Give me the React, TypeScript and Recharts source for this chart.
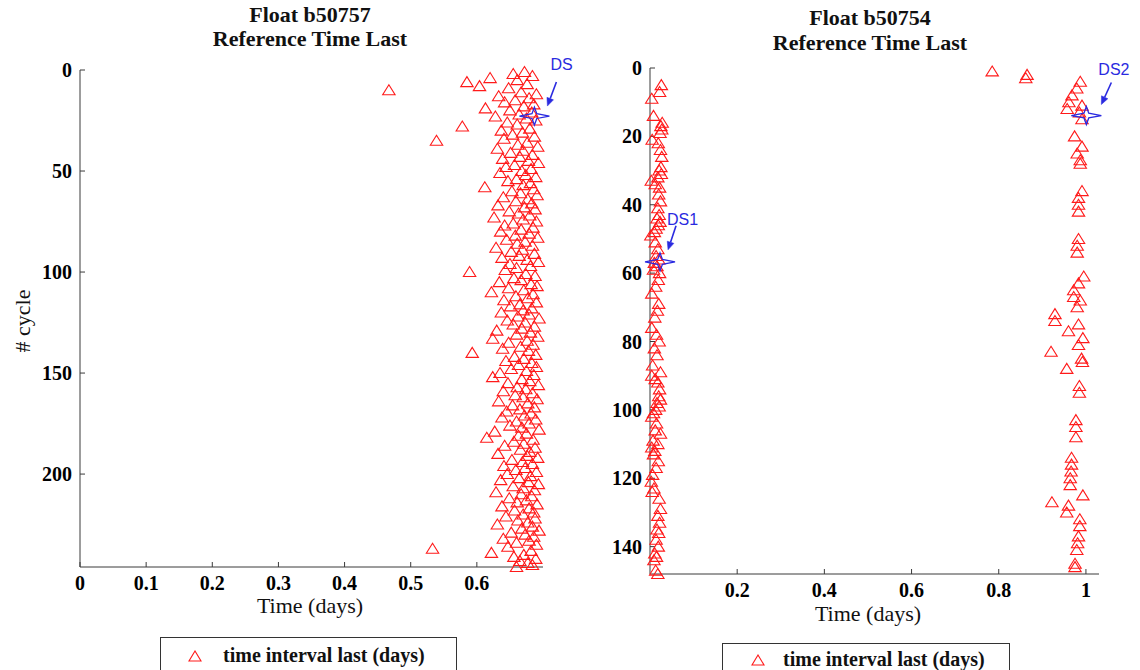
import React from 'react';
import { ScatterChart, Scatter, XAxis, YAxis } from 'recharts';

// ---------- Data ----------
// Float b50757: time interval last (days) for cycles 1..246
const leftTimes: number[] = [
  0.672, 0.655, 0.684, 0.620, 0.661, 0.585, 0.676, 0.604, 0.648, 0.467,
  0.667, 0.690, 0.633, 0.679, 0.658, 0.642, 0.686, 0.671, 0.613, 0.650,
  0.683, 0.664, 0.628, 0.675, 0.689, 0.646, 0.661, 0.578, 0.680, 0.637,
  0.669, 0.654, 0.687, 0.641, 0.539, 0.676, 0.662, 0.692, 0.631, 0.670,
  0.651, 0.684, 0.665, 0.639, 0.678, 0.693, 0.657, 0.644, 0.682, 0.668,
  0.635, 0.674, 0.689, 0.660, 0.647, 0.681, 0.670, 0.612, 0.686, 0.653,
  0.666, 0.691, 0.640, 0.677, 0.659, 0.683, 0.632, 0.672, 0.688, 0.649,
  0.663, 0.680, 0.626, 0.670, 0.690, 0.655, 0.642, 0.685, 0.667, 0.636,
  0.679, 0.658, 0.692, 0.645, 0.673, 0.661, 0.684, 0.629, 0.669, 0.652,
  0.687, 0.664, 0.638, 0.676, 0.693, 0.650, 0.681, 0.660, 0.643, 0.589,
  0.674, 0.688, 0.656, 0.667, 0.634, 0.682, 0.691, 0.648, 0.671, 0.622,
  0.685, 0.659, 0.677, 0.641, 0.690, 0.665, 0.651, 0.683, 0.670, 0.637,
  0.679, 0.662, 0.694, 0.646, 0.673, 0.655, 0.687, 0.668, 0.630, 0.681,
  0.660, 0.692, 0.624, 0.676, 0.648, 0.685, 0.666, 0.639, 0.678, 0.593,
  0.689, 0.657, 0.671, 0.644, 0.683, 0.663, 0.690, 0.652, 0.675, 0.635,
  0.686, 0.624, 0.668, 0.680, 0.647, 0.693, 0.661, 0.674, 0.640, 0.684,
  0.658, 0.670, 0.691, 0.633, 0.677, 0.654, 0.687, 0.665, 0.645, 0.682,
  0.672, 0.638, 0.689, 0.660, 0.679, 0.650, 0.668, 0.694, 0.627, 0.675,
  0.663, 0.615, 0.685, 0.656, 0.671, 0.642, 0.688, 0.666, 0.680, 0.632,
  0.676, 0.692, 0.653, 0.669, 0.684, 0.641, 0.673, 0.659, 0.690, 0.646,
  0.681, 0.664, 0.636, 0.678, 0.693, 0.655, 0.670, 0.687, 0.629, 0.667,
  0.683, 0.649, 0.675, 0.661, 0.691, 0.638, 0.679, 0.657, 0.686, 0.670,
  0.644, 0.688, 0.662, 0.677, 0.631, 0.684, 0.668, 0.694, 0.652, 0.673,
  0.686, 0.640, 0.679, 0.660, 0.690, 0.647, 0.533, 0.682, 0.622, 0.671,
  0.656, 0.689, 0.665, 0.677, 0.684, 0.660,
];

// Float b50754: cycles whose time is near 1 day
const rightHighCycles: number[] = [
  1, 2, 3, 4, 6, 8, 10, 11, 12, 13,
  15, 20, 23, 25, 27, 28, 36, 38, 40, 42,
  50, 52, 54, 61, 63, 65, 67, 68, 70, 72,
  74, 75, 77, 79, 81, 83, 85, 86, 88, 93,
  95, 103, 105, 108, 114, 116, 118, 120, 122, 125,
  127, 128, 130, 132, 134, 137, 139, 141, 145, 146,
];
const rightHighTimes: number[] = [
  0.785, 0.865, 0.862, 0.987, 0.979, 0.968, 0.961, 0.991, 0.957, 0.985,
  0.991, 0.974, 0.991, 0.980, 0.987, 0.987, 0.991, 0.983, 0.983, 0.983,
  0.983, 0.980, 0.980, 0.995, 0.983, 0.972, 0.972, 0.987, 0.980, 0.929,
  0.929, 0.983, 0.960, 0.993, 0.983, 0.920, 0.990, 0.992, 0.956, 0.985,
  0.985, 0.977, 0.977, 0.977, 0.967, 0.967, 0.966, 0.964, 0.964, 0.993,
  0.922, 0.960, 0.956, 0.986, 0.986, 0.983, 0.981, 0.979, 0.975, 0.975,
];

// Float b50754: cycles whose time is near 0 day
const rightLowCycles: number[] = [
  5, 7, 9, 14, 16, 17, 18, 19, 21, 22,
  24, 26, 29, 30, 31, 32, 33, 34, 35, 37,
  39, 41, 43, 44, 45, 46, 47, 48, 49, 51,
  53, 55, 56, 57, 58, 59, 60, 62, 64, 66,
  69, 71, 73, 76, 78, 80, 82, 84, 87, 89,
  90, 91, 92, 94, 96, 97, 98, 99, 100, 101,
  102, 104, 106, 107, 109, 110, 111, 112, 113, 115,
  117, 119, 121, 123, 124, 126, 129, 131, 133, 135,
  136, 138, 140, 142, 143, 144, 147, 148,
];
const rightLowTimes: number[] = [
  0.026, 0.022, 0.004, 0.008, 0.028, 0.025, 0.027, 0.023, 0.005, 0.019,
  0.024, 0.027, 0.025, 0.021, 0.026, 0.018, 0.003, 0.012, 0.022, 0.020,
  0.024, 0.018, 0.021, 0.016, 0.023, 0.019, 0.014, 0.010, 0.002, 0.012,
  0.018, 0.014, 0.020, 0.010, 0.016, 0.008, 0.022, 0.019, 0.013, 0.004,
  0.020, 0.017, 0.011, 0.004, 0.015, 0.021, 0.010, 0.016, 0.006, 0.024,
  0.004, 0.012, 0.018, 0.022, 0.020, 0.024, 0.016, 0.021, 0.013, 0.008,
  0.004, 0.015, 0.012, 0.024, 0.007, 0.018, 0.004, 0.011, 0.008, 0.019,
  0.014, 0.006, 0.003, 0.009, 0.005, 0.021, 0.024, 0.018, 0.022, 0.016,
  0.020, 0.014, 0.019, 0.011, 0.015, 0.009, 0.013, 0.018,
];

// Deep-sampling (DS) markers
const leftDSLabels: string[] = ['DS'];
const leftDSTimes: number[] = [0.687];
const leftDSCycles: number[] = [22.8];
const rightDSLabels: string[] = ['DS1', 'DS2'];
const rightDSTimes: number[] = [0.023, 1.001];
const rightDSCycles: number[] = [56.7, 13.9];

// Axis ticks
const leftXTicks = [0, 0.1, 0.2, 0.3, 0.4, 0.5, 0.6];
const leftYTicks = [0, 50, 100, 150, 200];
const rightXTicks = [0.2, 0.4, 0.6, 0.8, 1];
const rightYTicks = [0, 20, 40, 60, 80, 100, 120, 140];

// ---------- Build tables ----------
const leftData = leftTimes.map((t, i) => ({ x: t, y: i + 1 }));
const rightData = [
  ...rightHighCycles.map((c, i) => ({ x: rightHighTimes[i], y: c })),
  ...rightLowCycles.map((c, i) => ({ x: rightLowTimes[i], y: c })),
];
const leftDS = leftDSLabels.map((l, i) => ({ x: leftDSTimes[i], y: leftDSCycles[i], label: l }));
const rightDS = rightDSLabels.map((l, i) => ({ x: rightDSTimes[i], y: rightDSCycles[i], label: l }));

// ---------- Styles ----------
const SERIF = '"Liberation Serif", "Times New Roman", serif';
const AXIS_COLOR = '#3a3a3a';
const RED = '#ff1a1a';
const BLUE = '#2a2ae0';

// annotation offsets (style only) relative to the star
const ANNOT: Record<string, { tx: number; ty: number; ax1: number; ay1: number; ax2: number; ay2: number }> = {
  DS: { tx: 16, ty: -46, ax1: 22, ay1: -34, ax2: 13, ay2: -10 },
  DS1: { tx: 7, ty: -37, ax1: 16, ay1: -36, ax2: 8, ay2: -12 },
  DS2: { tx: 12, ty: -41, ax1: 25, ay1: -33, ax2: 15, ay2: -11 },
};

const Triangle = (props: any) => {
  const { cx, cy } = props;
  if (cx == null || cy == null) return <g />;
  const pts = `${cx},${cy - 5.5} ${cx - 6.2},${cy + 4.5} ${cx + 6.2},${cy + 4.5}`;
  return <polygon points={pts} fill="none" stroke={RED} strokeWidth={1.1} />;
};

const Star = (props: any) => {
  const { cx, cy, payload } = props;
  if (cx == null || cy == null) return <g />;
  const a = ANNOT[payload.label];
  const r = 2.4;
  const pts = [
    [cx + 15, cy], [cx + r, cy - r], [cx, cy - 9], [cx - r, cy - r],
    [cx - 15, cy], [cx - r, cy + r], [cx, cy + 9], [cx + r, cy + r],
  ].map((p) => p.join(',')).join(' ');
  const x1 = cx + a.ax1, y1 = cy + a.ay1, x2 = cx + a.ax2, y2 = cy + a.ay2;
  const dx = x2 - x1, dy = y2 - y1;
  const len = Math.sqrt(dx * dx + dy * dy);
  const ux = dx / len, uy = dy / len;
  const hl = 8, hw = 3.5;
  const bx = x2 - ux * hl, by = y2 - uy * hl;
  const head = `${x2},${y2} ${bx - uy * hw},${by + ux * hw} ${bx + uy * hw},${by - ux * hw}`;
  return (
    <g>
      <polygon points={pts} fill="none" stroke={BLUE} strokeWidth={1.3} />
      <line x1={x1} y1={y1} x2={bx} y2={by} stroke={BLUE} strokeWidth={1.6} />
      <polygon points={head} fill={BLUE} stroke={BLUE} strokeWidth={0.5} />
      <text x={cx + a.tx} y={cy + a.ty} fill={BLUE} fontSize={16} fontFamily='"Liberation Sans", Arial, sans-serif'>
        {payload.label}
      </text>
    </g>
  );
};

const tickStyle = { fill: '#000', fontSize: 20, fontWeight: 700, fontFamily: SERIF };

function Panel(props: {
  left: number; width: number; marginTop: number; marginRight: number; marginBottom: number;
  data: { x: number; y: number }[]; ds: { x: number; y: number; label: string }[];
  xDomain: [number, number]; yDomain: [number, number]; xTicks: number[]; yTicks: number[];
}) {
  const { left, width, marginTop, marginRight, marginBottom, data, ds, xDomain, yDomain, xTicks, yTicks } = props;
  return (
    <div style={{ position: 'absolute', left, top: 0 }}>
      <ScatterChart
        width={width}
        height={670}
        margin={{ top: marginTop, right: marginRight, bottom: marginBottom, left: 0 }}
      >
        <XAxis
          xAxisId="b"
          type="number"
          dataKey="x"
          orientation="bottom"
          domain={xDomain}
          ticks={xTicks}
          height={30}
          tickSize={-5}
          tickMargin={14}
          tick={tickStyle}
          stroke={AXIS_COLOR}
          tickFormatter={(v: number) => String(v)}
        />
        <XAxis
          xAxisId="t"
          type="number"
          dataKey="x"
          orientation="top"
          domain={xDomain}
          ticks={xTicks}
          height={0}
          tickSize={-5}
          tick={false}
          stroke={AXIS_COLOR}
        />
        <YAxis
          yAxisId="l"
          type="number"
          dataKey="y"
          orientation="left"
          reversed
          domain={yDomain}
          ticks={yTicks}
          width={80}
          tickSize={-5}
          tickMargin={13}
          tick={tickStyle}
          stroke={AXIS_COLOR}
        />
        <YAxis
          yAxisId="r"
          type="number"
          dataKey="y"
          orientation="right"
          reversed
          domain={yDomain}
          ticks={yTicks}
          width={0}
          tickSize={-5}
          tick={false}
          stroke={AXIS_COLOR}
        />
        <Scatter
          xAxisId="b"
          yAxisId="l"
          data={data}
          shape={Triangle}
          isAnimationActive={false}
        />
        <Scatter
          xAxisId="t"
          yAxisId="r"
          data={ds}
          shape={Star}
          isAnimationActive={false}
        />
      </ScatterChart>
    </div>
  );
}

const abs = (s: React.CSSProperties): React.CSSProperties => ({ position: 'absolute', ...s });

function TriangleIcon() {
  return (
    <svg width={14} height={12} style={{ display: 'block' }}>
      <polygon points="7,1 1,11 13,11" fill="none" stroke={RED} strokeWidth={1.1} />
    </svg>
  );
}

export default function App() {
  const title = (cx: number, y1: number, y2: number, name: string) => (
    <>
      <div style={abs({ left: cx - 200, width: 400, top: y1 - 12, lineHeight: '24px', textAlign: 'center', fontFamily: SERIF, fontWeight: 700, fontSize: 22, color: '#111' })}>{name}</div>
      <div style={abs({ left: cx - 200, width: 400, top: y2 - 12, lineHeight: '24px', textAlign: 'center', fontFamily: SERIF, fontWeight: 700, fontSize: 22, color: '#111' })}>Reference Time Last</div>
    </>
  );
  const xlabel = (cx: number, cy: number) => (
    <div style={abs({ left: cx - 100, width: 200, top: cy - 12, lineHeight: '24px', textAlign: 'center', fontFamily: SERIF, fontSize: 22, color: '#111' })}>Time (days)</div>
  );
  const legend = (left: number, top: number, width: number, triX: number, textX: number, textTop: number) => (
    <div style={abs({ left, top, width, height: 60, border: '1px solid #333', boxSizing: 'border-box', background: '#fff' })}>
      <div style={abs({ left: triX - left - 7, top: textTop + 6 })}><TriangleIcon /></div>
      <div style={abs({ left: textX - left, top: textTop, lineHeight: '22px', whiteSpace: 'nowrap', fontFamily: SERIF, fontWeight: 700, fontSize: 20, color: '#111' })}>time interval last (days)</div>
    </div>
  );
  return (
    <div style={abs({ left: 0, top: 0, width: 1140, height: 670, overflow: 'hidden', background: '#fff' })}>
      <Panel
        left={570}
        width={570}
        marginTop={68}
        marginRight={41}
        marginBottom={66}
        data={rightData}
        ds={rightDS}
        xDomain={[0, 1.03]}
        yDomain={[0, 148]}
        xTicks={rightXTicks}
        yTicks={rightYTicks}
      />
      <Panel
        left={0}
        width={610}
        marginTop={70}
        marginRight={67}
        marginBottom={73}
        data={leftData}
        ds={leftDS}
        xDomain={[0, 0.7]}
        yDomain={[0, 246]}
        xTicks={leftXTicks}
        yTicks={leftYTicks}
      />
      {title(310, 15, 39, 'Float b50757')}
      {title(870, 18, 43, 'Float b50754')}
      {xlabel(310, 606)}
      {xlabel(868, 614)}
      <div style={abs({ left: 23 - 60, top: 321 - 12, width: 120, lineHeight: '24px', textAlign: 'center', transform: 'rotate(-90deg)', fontFamily: SERIF, fontSize: 22, color: '#111' })}># cycle</div>
      {legend(160, 637, 297, 194, 222, 6)}
      {legend(722, 643, 288, 757, 782, 4)}
    </div>
  );
}
